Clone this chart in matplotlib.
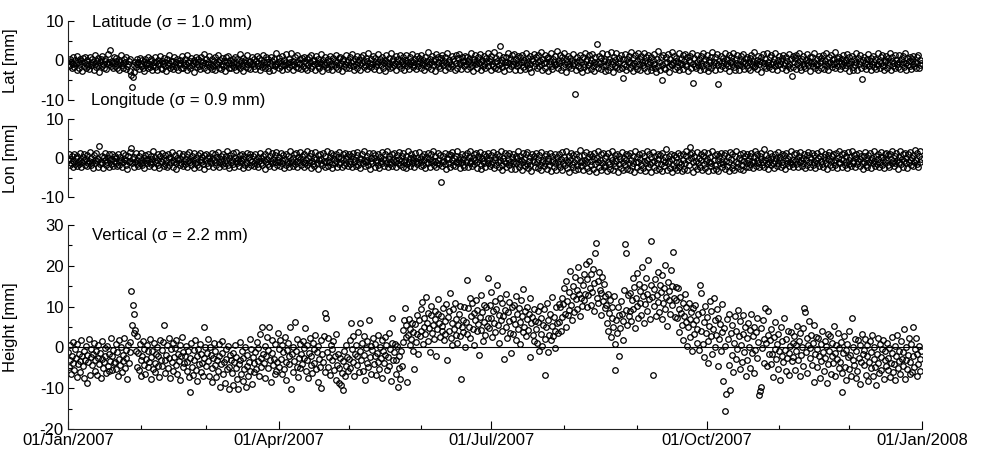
import numpy as np
import pandas as pd
import matplotlib
matplotlib.use("Agg")
import matplotlib.pyplot as plt
import matplotlib.dates as mdates

plt.rcParams['font.family'] = ['Liberation Sans', 'DejaVu Sans']
plt.rcParams['axes.unicode_minus'] = False

# residuals, 3 samples per day, 01/Jan/2007 - 31/Dec/2007
lat_mm = [
    -0.2, -1.4, 0.5, -1.1, -0.3, -2.0, 0.8, -0.9, -1.6, 0.1, -0.7, -2.3, 1.2, -0.4, -1.8, 0.3, -1.0, -0.1, -2.6, 0.6, -1.3, -0.5, 1.0, -1.9, -0.8, 0.2, -1.5, -2.1, 0.9, -0.6,
    -1.2, 0.4, -0.3, -2.4, -0.9, 1.4, -1.7, -0.2, 0.7, -1.1, -2.8, -0.5, 0.3, -1.4, 1.1, -0.8, -1.9, -0.1, 0.5, -2.2, -0.6, 1.6, -1.0, -0.4, 2.7, -1.5, -0.7, 0.0, -2.0, 0.8,
    -1.3, -0.2, 0.6, -1.8, -0.9, 0.2, -2.5, -0.4, 1.3, -1.1, -0.6, -1.9, 0.4, -0.3, -2.1, 0.9, -1.4, -0.8, -0.1, -2.7, 0.5, -3.6, -6.6, -4.2, -1.2, -2.9, -0.5, -1.7, 0.3, -1.0,
    -0.4, -2.2, 0.7, -1.5, -0.8, 0.1, -1.9, -2.6, -0.3, 0.5, -1.2, -0.6, -2.0, 1.0, -0.9, -1.6, -0.2, 0.4, -2.3, -1.1, -0.5, 0.8, -1.7, -0.3, -2.4, 0.2, -1.0, -0.7, 1.2, -1.8,
    -0.1, -2.1, -0.9, 0.6, -1.4, -0.4, -2.7, 0.3, -1.1, -0.6, 1.5, -1.9, -0.2, -1.3, 0.0, -2.2, 0.9, -0.8, -1.6, -0.3, 0.5, -2.5, -1.0, 0.2, -0.7, -1.8, 1.1, -0.5, -2.0, -1.2,
    0.4, -0.9, -2.3, 1.3, -0.4, -1.5, -0.1, -2.0, 0.7, -1.2, -0.6, 0.1, -2.8, -0.3, 1.0, -1.7, -0.8, 0.5, -1.4, -2.2, -0.2, 0.8, -1.1, -0.5, 1.7, -1.9, -0.7, 0.3, -2.4, -1.0,
    -0.3, 1.1, -1.6, -0.8, -2.1, 0.4, -1.3, -0.1, 0.9, -2.5, -0.6, -1.0, 1.4, -1.8, -0.4, 0.2, -2.2, -0.9, 0.6, -1.5, -0.2, -2.6, 0.8, -1.1, -0.5, 1.2, -1.9, -0.7, 0.1, -2.0,
    -1.2, 0.5, -0.3, -1.7, 1.0, -2.3, -0.6, 0.3, -1.4, -0.9, 1.6, -2.0, -0.1, -1.1, 0.7, -2.7, -0.5, 0.2, -1.6, -0.8, 1.3, -1.9, -0.4, 0.0, -2.2, -1.0, 0.9, -0.6, -1.5, 0.4,
    -2.1, -0.2, 1.1, -1.3, -0.7, 0.6, -2.4, -0.9, 0.2, -1.6, 1.5, -0.4, -2.0, -1.1, 0.8, -0.3, -1.8, 0.3, -2.6, -0.6, 1.0, -1.2, -0.1, -2.3, 0.5, -0.8, -1.5, 1.8, -1.0, -0.5,
    -1.9, 0.7, -0.2, -1.4, 1.2, -2.5, -0.8, 0.1, -1.1, -0.4, 1.6, -2.1, -0.7, 0.4, -1.7, -0.3, 2.0, -1.2, -2.4, 0.0, -0.9, 0.9, -1.6, -0.5, 1.3, -2.0, -1.0, 0.3, -0.6, -2.2,
    0.6, -1.3, -0.1, 1.0, -1.8, -0.7, -2.5, 0.4, -1.1, 0.8, -0.4, -2.0, 1.4, -1.5, -0.2, -0.9, 0.2, -2.3, 1.1, -0.6, -1.4, 0.5, -1.9, -0.3, 1.7, -1.0, -2.6, 0.1, -0.8, -1.2,
    0.9, -0.5, -1.7, 0.3, -2.2, -0.1, 1.2, -1.3, -0.8, -2.4, 0.6, -1.0, 0.0, 1.5, -1.6, -0.4, -2.1, 0.7, -1.1, 1.0, -0.6, -2.7, -0.2, 0.4, -1.5, -0.9, 1.3, -1.8, -0.3, 0.2,
    -2.0, 0.8, -1.2, -0.5, 1.6, -1.4, -0.1, -2.3, 0.5, -0.8, 1.1, -1.9, -0.4, 0.2, -1.0, -2.5, 0.9, -0.7, 1.4, -1.6, -0.2, -1.1, 0.6, -2.2, 0.0, 1.9, -1.3, -0.6, -1.7, 0.3,
    -0.9, 1.2, -2.1, -0.3, 0.7, -1.5, -1.0, 1.7, -0.5, -2.4, 0.4, -1.2, -0.2, 1.0, -1.8, -0.7, 0.1, -2.6, 1.3, -0.4, -1.4, 0.6, -0.9, -2.0, 1.8, -0.1, -1.6, 0.3, -1.1, -0.6,
    1.1, -2.3, -0.3, 0.5, -1.3, -0.8, 1.5, -1.9, -0.2, -1.0, 0.8, -2.5, 0.2, -0.6, 1.3, -1.4, -0.4, -2.1, 0.9, -0.9, 0.0, 1.6, -1.7, -0.5, -1.1, 0.4, -2.2, 1.2, -0.7, -1.5,
    0.7, -0.3, -1.9, 1.4, -1.0, 0.1, -2.4, -0.6, 1.0, -1.3, -0.1, 2.1, -1.7, -0.8, 0.5, -2.2, -0.4, 1.2, -1.2, -0.2, 0.3, -2.6, 1.6, -0.9, -0.5, 0.9, -1.5, -2.0, 0.6, -0.7,
    1.5, -1.1, -0.2, -2.3, 0.8, -0.6, 1.9, -1.6, -0.4, 0.2, -2.0, -0.9, 1.1, -1.3, 0.4, -0.1, -2.5, 1.3, -0.7, -1.8, 0.6, 1.7, -1.0, -0.3, -2.2, 0.9, -0.5, 0.0, -1.4, 1.2,
    -0.8, -2.1, 1.0, -0.2, 0.5, -1.7, -0.6, 2.0, -1.2, -2.6, 0.3, -0.4, 1.4, -1.0, -0.1, -1.9, 0.8, -0.7, 1.6, -2.3, -0.3, 0.1, -1.5, 1.2, -0.9, -2.0, 0.7, -0.5, 1.8, -1.3,
    -0.2, 0.4, -2.4, 1.1, -0.8, -1.4, 2.2, -0.5, -1.8, 0.6, -0.1, -2.2, 1.5, -1.1, 3.6, -0.6, 0.2, -1.6, 1.0, -2.7, -0.3, 0.9, -1.2, -0.4, 1.9, -2.1, -0.7, 0.3, -1.5, 1.3,
    -1.0, -0.2, 1.7, -2.3, -0.6, 0.5, -1.4, 1.2, -0.9, -2.5, 0.8, -0.3, 1.4, -1.7, -0.5, 0.1, -2.1, 2.0, -1.1, -0.4, 0.7, -1.9, 1.1, -0.8, -2.8, 0.4, -0.1, 1.6, -1.3, -0.6,
    0.9, -2.0, -0.4, 1.3, -1.5, -0.2, 2.1, -1.0, -2.4, 0.3, -0.7, 1.5, -1.8, -0.3, 0.6, -2.6, 1.0, -0.9, -0.1, 1.8, -1.4, -2.2, 0.5, -0.5, 1.2, -1.2, -0.8, 2.3, -1.9, 0.0,
    -0.6, 1.4, -2.3, -0.2, 0.8, -1.6, 1.9, -0.9, -2.9, 0.4, -0.4, 1.1, -1.3, -1.0, 0.7, -2.0, -0.1, 1.6, -1.1, -0.7, -8.4, -2.5, -0.3, 0.9, -1.5, 0.2, 1.3, -1.8, -0.5, -3.0,
    1.0, -0.8, -1.7, 2.0, -0.2, -2.4, 0.5, -1.2, 1.5, -0.6, -2.1, 0.2, 1.7, -1.4, -0.4, -2.7, 0.9, -1.0, 4.2, -0.3, -1.9, 1.2, -0.7, -2.2, 0.6, 1.8, -1.5, -0.1, -2.6, 0.3,
    -1.1, 1.6, -0.5, -2.3, 0.4, -1.7, 2.1, -0.9, -0.2, -2.8, 1.0, -1.3, 0.1, 1.9, -1.6, -0.6, -2.2, 0.7, -0.1, 1.4, -2.0, -4.4, 0.5, -0.8, 1.7, -1.4, -2.5, 0.3, -0.4, 1.2,
    -1.8, -0.3, 2.2, -1.1, -2.6, 0.6, -0.7, 1.3, -1.5, -0.1, -2.1, 1.8, -0.9, 0.4, -2.4, 1.1, -0.5, -1.2, 2.0, -1.9, -0.2, 0.8, -2.7, -0.6, 1.5, -1.0, -0.3, -2.3, 1.0, -1.6,
    0.2, -0.8, 1.6, -2.0, -2.9, 0.5, -1.3, 2.3, -0.4, -2.5, 1.0, -1.1, -5.0, 1.4, -1.8, -0.6, -2.2, 0.9, -0.3, 1.7, -1.4, -2.8, 0.3, -0.9, 2.1, -1.2, -0.5, 1.2, -2.1, -0.2,
    0.7, -1.7, -0.4, 1.9, -2.4, -0.7, 0.4, -1.0, 1.3, -2.2, -0.2, 1.6, -1.5, -0.9, 0.8, -2.6, 0.1, -0.5, 1.1, -1.9, 2.0, -5.7, -0.8, 0.6, -1.3, -2.0, 1.5, -0.3, -1.1, 0.3,
    -2.3, 1.2, -0.6, -1.4, 1.8, -0.1, -2.1, 0.5, -0.9, 1.4, -1.6, -2.7, 0.2, -0.4, 1.0, -1.8, 2.2, -1.1, -0.3, -2.4, 0.9, -0.7, 1.6, -6.0, -1.2, 0.0, -2.2, 1.1, -0.5, -1.5,
    0.6, -0.2, 1.9, -2.0, -0.8, 0.3, -1.3, 1.3, -2.6, -0.5, 0.8, -1.0, -0.1, 2.0, -1.7, -2.3, 0.4, -0.6, 1.5, -1.2, -2.5, 0.1, -0.9, 1.1, -1.5, -0.3, 1.7, -2.1, -0.7, 0.5,
    -1.1, 1.0, -1.9, -0.4, 0.7, -2.4, 1.4, -0.8, -0.2, -1.6, 2.1, -1.3, -0.6, 0.2, -2.2, 1.2, -1.0, -0.1, -2.8, 0.9, -0.5, 1.6, -1.4, -0.7, 0.4, -2.0, 1.8, -1.2, -0.3, -1.7,
    0.8, -0.9, 1.3, -2.1, -0.4, 0.5, -1.5, 2.0, -0.7, -2.5, 0.1, -1.1, 1.1, -1.0, -0.2, -1.8, 0.6, 1.5, -1.2, -0.6, -2.3, 0.9, -0.1, -1.4, 1.7, -0.8, -2.0, 0.3, -3.9, 1.2,
    -1.6, -0.3, 0.7, -2.2, 1.4, -1.0, -0.5, 1.9, -1.7, -0.1, -2.4, 0.4, -0.9, 1.2, -1.3, -2.0, 0.2, -0.6, 1.6, -1.1, -0.2, -2.6, 0.8, -0.7, 1.0, -1.5, -0.4, 2.0, -1.9, -0.8,
    0.3, -1.2, -2.3, 1.1, -0.5, 0.6, -1.8, -0.1, 1.5, -2.1, -0.9, 0.0, 1.8, -1.4, -0.6, -2.5, 0.9, -0.3, 1.3, -1.0, -1.7, 0.4, -0.8, 2.2, -2.0, -0.4, 0.7, -1.3, -0.2, 1.0,
    -2.2, -0.7, 0.5, -1.5, 1.4, -0.3, -2.0, 0.1, -1.1, 1.7, -0.6, -2.6, 0.8, -0.9, -0.2, 1.2, -1.6, -2.4, 0.4, -1.2, 1.9, -0.5, -2.3, 0.6, -1.0, -0.1, 1.3, -1.8, -4.7, 0.2,
    -1.4, 1.0, -0.6, -2.1, 0.3, -0.8, 1.6, -1.3, -0.2, -2.4, 0.7, -1.0, 1.2, -1.7, -0.4, 0.5, -2.2, -0.9, 1.8, -1.2, -0.1, -2.0, 0.9, -0.6, 1.4, -1.5, -2.5, 0.2, -0.3, 1.1,
    -1.8, -0.5, 0.6, -1.1, 2.0, -2.3, -0.2, 0.8, -1.4, -0.7, 1.3, -2.0, 0.1, -0.9, -1.6, 1.5, -0.4, -2.2, 0.4, -1.0, 1.1, -0.3, -1.7, 1.9, -2.5, -0.6, 0.7, -1.2, -0.1, 1.0,
    -1.5, -2.1, 0.5, -0.8, 1.2, -1.3, -0.3, -1.9, 0.9, -0.6, 1.4, -2.0, -1.1, 0.2, -0.7,
]

lon_mm = [
    -0.5, 0.9, -1.8, -0.2, -1.2, 0.4, -2.3, -0.7, 1.1, -1.5, -0.1, -2.0, 0.6, -0.9, -1.6, 1.3, -0.4, -2.4, -1.1, 0.2, -0.6, 1.0, -1.9, -0.3, -2.1, 0.7, -1.3, -0.8, 1.5, -1.7,
    0.1, -1.0, -2.5, 0.8, -0.4, -1.4, 1.2, -0.7, -2.2, -0.2, 3.0, -1.6, -0.9, 0.5, -1.2, -2.6, 0.3, -0.5, 1.4, -1.8, -1.0, 0.0, -2.3, 0.9, -0.6, -1.5, 1.1, -0.3, -2.0, -0.8,
    0.6, -1.3, -0.1, -2.1, 1.0, -0.7, -1.7, 0.3, -0.4, -2.4, 1.3, -1.1, -0.2, 0.7, -1.9, -0.5, -2.7, 0.4, -1.0, 1.6, -0.8, 2.6, -1.4, -0.3, -2.2, 0.2, -0.9, 1.2, -1.6, -0.6,
    -2.0, 0.5, -1.2, -0.4, 1.4, -1.8, -0.9, 0.0, -2.5, 0.8, -0.6, -1.4, 1.1, -0.2, -2.1, -1.0, 0.6, -1.6, -0.3, 1.7, -2.3, -0.8, 0.2, -1.3, -0.5, 1.0, -1.9, -2.6, 0.4, -0.7,
    -1.1, 1.3, -0.3, -2.0, 0.7, -1.5, -0.6, -2.4, 0.9, -0.1, -1.7, 0.3, -1.0, 1.5, -2.2, -0.4, -0.9, 0.8, -1.4, -2.7, 0.1, -0.5, 1.2, -1.8, -0.2, -1.2, 0.5, -2.1, 1.0, -0.8,
    -1.5, -0.3, 0.9, -2.3, -0.7, 1.6, -1.1, -0.2, -1.9, 0.4, -0.6, -2.5, 1.2, -1.3, 0.0, -0.9, -1.7, 0.7, -2.2, 1.4, -0.4, -1.0, 0.3, -1.6, -2.8, 0.8, -0.5, 1.1, -1.2, -0.1,
    -2.0, 0.6, -0.8, -1.4, 1.3, -0.2, -2.3, -0.6, 0.9, -1.1, -1.8, 0.2, 1.6, -0.9, -2.4, -0.3, 0.5, -1.5, -0.7, 1.0, -2.1, -1.2, 0.4, -0.4, 1.8, -1.7, -0.1, -2.6, 0.7, -1.0,
    -0.5, 1.2, -1.6, -2.2, 0.1, -0.8, 1.5, -1.3, -0.3, -2.0, 0.8, -1.1, -0.6, 1.1, -2.5, -0.2, 0.5, -1.7, -0.9, 1.4, -1.4, -2.3, 0.3, -0.4, 1.0, -1.9, -0.7, 0.6, -2.1, -1.2,
    0.9, -0.4, -1.5, 0.2, -2.4, -0.8, 1.3, -1.2, -0.1, -1.9, 0.6, -0.6, -2.7, 1.0, -1.0, -0.3, 1.7, -1.6, -2.1, 0.4, -0.7, 1.2, -1.3, -0.2, -2.2, 0.7, -0.9, 1.5, -1.8, -0.5,
    -1.1, 0.3, -2.0, 1.4, -0.6, -1.4, 0.8, -2.6, -0.2, 1.1, -1.7, -0.9, 0.5, -1.2, -2.3, 1.9, -0.4, -1.0, -0.1, -2.1, 0.9, -1.5, 1.3, -0.7, -2.4, 0.2, -1.1, 1.6, -0.3, -1.8,
    0.6, -0.9, -2.2, 1.0, -1.3, -0.5, 1.7, -1.9, -0.1, -1.0, 0.4, -2.5, 1.2, -0.7, -1.6, 0.0, -2.0, 1.5, -0.3, -1.2, 0.8, -2.7, -0.6, 1.1, -1.4, -0.2, -1.9, 1.3, -0.8, -2.3,
    0.5, -1.1, 1.8, -0.4, -2.1, -0.9, 0.2, 1.4, -1.6, -2.6, 0.7, -0.3, -1.3, 1.0, -0.7, -2.2, 0.3, -1.5, 1.6, -1.0, -0.1, -2.4, 0.9, -0.6, -1.8, 1.2, -0.2, -1.3, 0.4, -2.0,
    1.1, -0.8, -1.5, 0.6, -2.3, -0.3, 1.3, -1.1, -0.5, -2.0, 0.8, 1.5, -1.7, -0.9, 0.1, -2.5, -0.2, 1.0, -1.4, -0.6, 1.7, -2.1, -1.0, 0.4, -0.4, -1.8, 1.2, -2.7, 0.0, -0.7,
    -1.3, 1.4, -0.1, -2.2, 0.7, -1.0, -0.5, 1.1, -1.9, -2.5, 0.3, -0.8, 1.6, -1.4, -0.3, -2.0, 0.9, -0.6, -1.2, 1.8, -2.3, -0.2, 0.5, -1.6, -0.9, 1.0, -2.1, -0.4, 1.3, -1.1,
    -0.6, -2.4, 0.8, -1.3, 1.5, -0.2, -1.8, -0.7, 0.4, -2.2, 1.2, -1.0, -0.4, -2.6, 0.6, -1.5, 1.9, -0.9, -0.1, -2.0, 1.0, -1.2, -0.5, 0.3, -2.3, 1.4, -0.8, -1.6, 0.1, -1.1,
    1.6, -0.3, -2.1, -1.0, 0.5, -1.7, 1.1, -0.6, -2.5, 0.2, -0.9, 1.4, -1.4, -0.2, -2.2, 0.9, -1.1, -0.5, 1.7, -1.9, -0.7, 0.4, -2.4, -1.2, 1.2, -0.4, -1.6, 0.7, -6.2, -1.0,
    -2.0, 0.6, -0.8, 1.3, -1.5, -2.7, 0.1, -0.3, 1.0, -1.2, -2.3, 0.8, -0.6, 1.5, -1.8, -0.1, -2.1, 0.5, -1.0, 1.9, -1.4, -0.4, -2.6, 0.3, -0.9, 1.1, -1.7, -0.2, -2.2, 0.7,
    -1.1, 1.4, -0.5, -2.4, 0.2, -1.3, 1.8, -0.8, -2.0, -0.1, 0.9, -1.6, -0.6, 1.2, -2.5, -1.0, 0.4, -0.3, 1.6, -1.9, -2.8, 0.0, -0.7, 1.0, -1.4, -2.2, 0.6, -0.4, 1.3, -1.2,
    -0.2, -2.1, 0.8, -1.5, -0.9, 1.5, -2.6, -0.4, 0.3, -1.7, 1.1, -1.1, -2.3, 0.5, -0.6, 1.9, -1.8, -3.0, 0.1, -0.8, 1.2, -1.3, -2.4, 0.7, -0.3, -1.9, 1.4, -1.0, -2.7, 0.2,
    -1.4, 1.0, -0.7, -2.9, 0.4, -1.2, -0.1, 1.7, -2.2, -1.6, 0.6, -0.5, -3.1, 1.2, -1.0, -0.3, -2.0, 0.9, -1.5, 1.5, -2.6, -0.8, 0.2, -1.8, -3.3, 1.1, -0.6, -1.1, 0.5, -2.3,
    1.3, -0.9, -2.5, -0.2, 0.8, -1.7, -3.2, 1.6, -1.1, -0.4, -2.1, 0.4, -1.4, 1.0, -2.8, -0.7, 0.0, -1.9, 1.4, -3.4, -1.0, 0.6, -0.5, -2.4, 1.1, -1.3, -3.0, 0.3, -0.8, -1.6,
    0.9, -2.2, -0.3, 1.5, -3.1, -1.2, 0.2, -1.8, -0.6, 1.8, -2.6, -1.0, 0.5, -3.5, -0.4, 1.2, -1.5, -2.3, 0.7, -0.9, -3.2, 1.0, -1.7, -0.2, -2.7, 0.4, -1.1, 2.0, -2.0, -0.7,
    -3.0, 0.8, -1.4, -0.5, 1.6, -2.5, -1.0, 0.3, -3.3, 1.1, -0.8, -1.9, 0.6, -2.9, -0.3, 1.4, -1.6, -3.6, 0.1, -1.1, 1.9, -2.2, -0.6, -3.1, 0.9, -1.3, 1.2, -2.4, -0.1, -1.8,
    0.5, -3.4, -0.9, 1.3, -1.5, -2.7, 0.2, -0.4, 1.7, -3.0, -1.2, 0.7, -2.1, -0.7, 1.0, -3.6, -1.6, 0.4, -0.2, -2.5, 1.5, -1.0, -3.2, 0.1, -1.8, 1.1, -0.5, -2.8, 0.8, -1.3,
    -3.1, 1.2, -0.6, -2.0, 0.6, -1.4, -3.5, 1.7, -0.9, -2.4, 0.3, -1.1, 1.0, -3.0, -0.3, -1.7, 1.4, -2.6, -0.8, 0.5, -3.3, -1.2, 1.8, -0.4, -2.2, 0.9, -1.5, -3.7, 0.2, -1.0,
    1.5, -2.3, -0.7, 0.4, -3.2, -1.3, 1.1, -0.2, -2.8, 0.7, -1.6, -3.4, 1.3, -0.5, -2.1, 0.2, -1.0, 2.2, -3.0, -1.4, 0.6, -0.8, -2.5, 1.0, -3.6, -0.3, -1.8, 0.8, -2.6, -1.1,
    0.3, -3.1, 1.4, -0.9, -2.2, 0.7, -1.5, -3.4, 1.1, -0.4, -2.7, -1.2, 0.5, 1.8, -3.0, -0.6, -1.9, 0.9, 2.9, -0.1, 1.2, -3.5, -1.0, 0.4, -2.0, -0.7, 1.6, -2.9, -1.3, 0.1,
    -2.3, 1.0, -0.5, -3.2, 0.6, -1.6, 1.5, -2.6, -0.8, -0.2, -3.4, 1.2, -1.1, 0.3, -2.1, -1.4, 1.7, -3.0, -0.4, 0.8, -1.8, -2.7, 1.1, -0.6, -3.3, 0.5, -1.2, 1.4, -2.4, -0.9,
    -1.5, 0.7, -2.9, 1.2, -0.7, -2.0, 0.2, -3.3, -1.1, 1.5, -0.3, -2.5, 0.9, -1.7, -3.1, 0.4, -0.9, 1.9, -2.2, -1.4, 0.0, -2.8, 1.0, -0.5, -1.9, 1.3, -3.0, -0.8, 0.6, -2.4,
    -1.2, 1.1, -0.4, -2.3, 0.6, -1.6, 1.4, -0.8, -2.6, 0.2, -1.1, 1.7, -2.0, -0.5, 0.9, -1.4, -2.4, 0.4, -0.2, 1.2, -1.8, -0.9, 2.4, -2.2, -0.6, 0.8, -1.5, -2.8, 0.1, -1.0,
    1.3, -0.3, -1.9, 0.5, -1.2, -2.5, 1.0, -0.7, -0.1, -2.1, 1.6, -1.4, -0.6, 0.3, -2.3, 1.1, -0.9, -1.7, 0.7, -2.7, -0.4, 1.4, -1.3, -0.2, -2.0, 0.6, -1.0, 1.8, -1.6, -0.5,
    -2.2, 0.9, -0.8, 1.3, -1.5, -0.3, -2.4, 0.4, -1.1, 1.6, -0.6, -2.0, 0.1, -1.3, 1.0, -2.6, -0.4, 0.7, -1.7, 1.5, -0.9, -2.3, 0.3, -0.2, 1.2, -1.8, -1.0, 0.8, -2.5, -0.6,
    1.4, -1.2, -0.1, -2.1, 0.6, -0.8, 1.9, -1.6, -2.4, 0.2, -0.5, 1.1, -1.4, -2.7, 0.8, -0.3, 1.5, -1.9, -0.7, 0.4, -2.2, 1.0, -1.1, -0.4, -1.7, 1.3, -2.5, 0.0, -0.9, 1.7,
    -1.3, -0.2, -2.3, 0.9, -0.6, 1.2, -1.8, -1.0, 0.5, -2.6, 1.5, -0.4, -1.5, 0.2, -2.0, 1.8, -0.8, -1.2, 0.7, -2.4, -0.1, 1.0, -1.6, -0.7, 1.4, -2.1, -0.3, 0.6, -1.4, -2.8,
    0.4, -0.9, 1.6, -1.7, -0.2, -2.2, 0.8, -1.1, 1.3, -0.5, -2.5, 0.1, -1.3, 1.9, -0.7, -2.0, 0.6, -1.5, -0.3, 1.1, -2.3, -0.9, 0.3, 1.5, -1.8, -0.4, -2.6, 0.9, -1.0, 1.2,
    -0.6, -1.9, 0.7, -2.4, 1.0, -0.2, -1.4, 1.7, -0.8, -2.1, 0.4, -1.2, 1.3, -0.5, -2.7, 0.2, -1.0, 1.8, -1.6, -0.3, 0.9, -2.2, -0.7, 1.4, -1.3, 0.0, -2.5, 1.1, -0.9, -0.4,
    1.6, -1.7, -0.1, -2.0, 0.8, -1.1, 2.0, -0.6, -1.5, 1.3, -2.3, 0.5, 1.9, -1.0, -0.3,
]

height_mm = [
    -1.2, -4.8, 0.6, -3.1, -6.5, -2.0, 1.4, -3.9, -5.6, -0.5, -2.7, -7.2, 0.9, -4.1, -1.6, -3.3, -6.0, 1.8, -2.2, -4.5, -0.8, -7.6, -3.0, 0.3, -8.7, -1.9, -3.6, 2.1, -6.8, -2.4,
    -0.4, -4.3, -1.7, 1.2, -5.9, -3.2, -0.9, -6.7, -2.6, 0.7, -4.0, -1.3, -7.4, -2.9, 1.6, -5.1, -3.7, -0.2, -2.1, -6.3, 0.4, -4.6, -1.5, -5.8, -3.4, 2.3, -2.0, -5.5, -0.7, -3.8,
    -3.5, 0.8, -5.4, -1.1, -7.0, 1.9, -2.8, -4.4, 0.2, -6.1, -1.8, -3.3, 2.4, -5.0, -0.6, -2.5, -7.8, 0.5, -3.9, -1.2, 1.3, 13.8, 5.5, 10.3, 8.3, 3.5, 4.3, -0.9, -4.7, 2.7,
    -1.4, -5.6, 0.9, -3.0, -7.1, -2.2, 1.5, -4.2, -0.3, -6.4, -2.9, 0.6, -4.9, -1.0, -3.5, 2.0, -7.7, -2.4, -0.8, -5.3, 1.1, -3.8, -6.0, -1.6, 0.2, -4.5, -2.1, -7.3, 1.7, -3.2,
    -0.7, -4.6, 1.3, 5.5, -3.1, -6.2, -1.9, 0.5, -5.0, -2.6, 2.2, -7.4, -0.4, -3.7, 1.0, -5.7, -2.3, -0.1, -4.3, 1.8, -6.6, -1.5, -3.4, 0.7, -8.1, -2.0, 2.5, -4.8, -1.1, -3.9,
    -2.2, 0.4, -5.8, -3.6, -1.0, -7.3, -10.9, -2.7, 1.2, -4.9, -6.8, -0.6, -3.2, 1.7, -5.5, -2.0, -8.2, -0.3, -4.1, 0.9, -6.1, -1.6, -3.9, -7.0, 5.1, -2.5, 0.1, -4.6, -1.3, 2.0,
    -3.3, -6.9, 0.2, -1.8, -5.1, -8.4, -2.6, 1.0, -4.4, -0.9, -7.2, -3.0, -5.8, 0.8, -2.1, -9.6, -4.0, -1.3, 1.5, -6.4, -3.7, -8.8, -0.5, -2.8, -5.3, 0.4, -4.7, -10.2, -1.9, -3.1,
    -6.2, -1.4, -9.1, -3.5, 0.6, -5.0, -2.3, -7.7, -10.3, -4.1, 1.3, -3.0, -6.6, -0.8, -8.3, -2.7, -5.4, 0.1, -9.8, -4.6, -1.9, -7.0, -3.6, 2.0, -5.8, -0.4, -8.9, -2.4, -6.1, -3.9,
    -1.1, -5.3, 1.4, -3.4, -0.2, -6.9, 3.2, -2.5, -4.8, 4.9, -1.6, -3.9, 0.3, -7.5, -2.0, 2.6, -5.1, -0.7, 5.1, -3.2, -8.6, -1.3, 1.9, -4.3, -2.8, -6.4, 0.8, -5.7, -3.6, 3.6,
    -0.3, -4.7, 1.8, -2.9, -6.5, 0.5, -1.2, -5.4, 2.6, -3.6, -8.0, -0.6, 1.1, -4.0, -2.2, 5.0, -10.2, -1.5, -6.1, 0.2, -3.3, 6.3, -1.0, -4.9, 2.1, -7.2, -2.5, 0.9, -5.0, -1.7,
    -4.1, 1.5, -2.6, -0.1, 4.8, -5.7, -3.0, 0.7, -7.5, -1.4, 2.4, -4.4, -2.1, -6.3, 1.0, -0.5, -3.8, 3.0, -5.2, -1.1, -8.4, 0.3, -2.9, -4.7, 1.9, -10.0, -1.6, -3.5, 2.8, -6.0,
    8.4, 7.3, -1.2, -4.9, 2.2, -2.4, -6.7, 0.5, -3.1, -0.3, 1.6, -5.5, -2.0, 3.4, -7.9, -4.3, -1.7, -8.8, -5.1, -2.6, -9.3, -6.2, -10.4, -3.4, -0.9, -7.1, -4.5, 0.6, -2.3, -5.7,
    -2.8, 1.9, -5.1, 6.1, -0.4, -3.6, 2.7, -7.0, -1.5, 0.6, -4.3, -2.1, 3.8, -6.1, 6.0, -0.9, -3.2, 1.2, -5.7, -1.8, 2.9, -8.1, -0.2, -3.9, 1.5, -4.8, 6.7, -2.4, 0.4, -6.4,
    -0.6, 2.3, -4.0, -2.2, 0.9, -6.8, -1.3, 3.1, -3.5, -5.2, 0.1, -2.7, 1.8, -7.6, -0.8, -3.8, 2.6, -1.9, 0.5, -5.5, -2.4, 3.5, -4.6, -0.3, -8.3, 1.2, 7.2, -3.1, -1.1, 0.8,
    -3.0, -6.4, 0.4, -9.6, -5.1, -2.2, -7.8, -1.0, -4.5, 4.2, 1.3, 6.8, 9.7, 2.5, 5.4, -8.4, 3.1, 7.0, 0.6, 4.6, 2.0, 6.1, -0.8, 3.7, -5.2, 5.8, 1.4, 8.0, 3.3, -1.5,
    6.6, 2.8, 9.4, 4.1, 11.2, 0.9, 7.3, 5.0, 3.2, 12.3, 6.0, 1.6, 8.5, 4.7, -1.2, 7.9, 10.1, 3.6, 5.5, 2.1, 9.0, 6.9, -2.0, 4.4, 8.1, 11.8, 5.9, 2.6, 7.6, 3.9,
    5.2, 9.7, 1.8, 6.5, 3.4, 10.6, -3.0, 7.4, 4.0, 8.8, 13.3, 2.3, 6.1, 0.5, 9.3, 4.6, 11.0, 3.0, 7.0, 1.2, 5.6, 8.2, 2.9, 10.2, -7.8, 4.9, 6.8, 3.7, 9.9, 0.2,
    6.3, 16.5, 3.3, 9.6, 5.1, 12.0, 2.2, 7.8, 10.9, 4.5, 8.4, 0.7, 6.7, 11.5, 3.9, 9.1, 5.8, -1.8, 7.5, 12.8, 4.2, 8.7, 1.5, 10.4, 6.2, 3.0, 9.8, 5.3, 17.1, 7.1,
    4.8, 10.3, 7.2, 13.6, 2.6, 8.9, 6.0, 11.4, 3.7, 9.5, 15.2, 5.4, 1.1, 8.0, 12.2, 6.6, 4.0, 10.8, 7.7, -2.8, 9.2, 5.0, 13.0, 2.4, 8.6, 11.1, 6.4, 3.5, -1.4, 9.9,
    7.0, 3.2, 10.5, 5.7, 12.6, 1.9, 8.3, 4.4, 9.7, 6.2, 0.8, 11.7, 7.6, 3.8, 14.3, 5.1, 9.0, 2.7, 6.9, 10.0, 4.3, 8.1, -2.4, 12.1, 5.9, 7.4, 3.1, 9.4, 1.6, 6.5,
    4.6, 1.2, 8.8, 6.3, -0.8, 10.2, 3.4, 7.1, 0.3, 5.5, 9.4, 2.0, -6.8, 4.9, 11.0, -1.1, 6.7, 3.0, 8.2, 1.7, 5.2, 12.4, 2.8, 7.5, 4.0, -0.2, 9.9, 6.0, 3.5, 10.7,
    6.2, 9.8, 3.9, 12.0, 7.4, 10.6, 14.5, 8.3, 5.1, 16.2, 11.3, 7.9, 13.7, 9.2, 18.8, 10.4, 6.8, 15.0, 12.5, 8.7, 17.3, 11.9, 14.1, 9.5, 19.6, 13.0, 7.6, 16.4, 12.2, 10.1,
    15.3, 11.6, 18.0, 13.2, 20.4, 9.9, 16.7, 12.8, 21.2, 14.6, 10.5, 17.9, 13.5, 19.3, 8.8, 15.8, 23.1, 25.6, 12.0, 16.2, 10.9, 18.6, 14.0, 7.9, 13.3, 17.2, 11.4, 15.5, 9.6, 12.7,
    10.3, 6.1, 13.2, 4.0, 8.5, 11.7, 2.6, 7.2, 9.8, 5.0, 12.6, 0.9, -5.5, 6.8, 3.5, 10.0, 7.9, -2.2, 4.7, 11.3, 8.1, 1.8, 6.4, 14.0, 25.3, 23.1, 9.2, 5.6, 12.9, 7.7,
    8.9, 13.4, 6.5, 11.6, 16.9, 9.3, 14.7, 4.8, 12.1, 18.2, 10.2, 7.3, 15.6, 11.0, 13.8, 8.0, 19.7, 12.7, 5.9, 14.9, 10.6, 17.1, 9.0, 13.1, 21.4, 11.8, 7.0, 26.0, 15.2, 12.3,
    -6.8, 14.2, 10.1, 16.8, 7.8, 12.9, 18.5, 11.2, 8.6, 15.4, 13.6, 6.9, 17.7, 10.8, 14.5, 9.4, 20.3, 12.4, 5.3, 16.1, 11.5, 13.9, 8.2, 18.9, 15.0, 10.3, 23.4, 12.0, 7.5, 14.8,
    11.7, 7.2, 14.6, 9.5, 3.8, 12.3, 8.4, 5.6, 10.9, 1.7, 7.8, 13.1, 6.3, 9.9, 0.4, 4.9, 11.0, 7.0, 2.6, 8.7, -1.0, 5.8, 9.6, 3.3, 10.5, 6.6, 1.2, 4.4, 8.1, -0.6,
    15.3, 13.3, 4.1, 8.6, 0.9, 6.2, -2.4, 10.2, 3.5, 7.4, 1.6, -3.9, 5.3, 11.4, 2.7, 8.9, -1.5, 4.6, 12.0, 6.8, 0.2, 3.1, 9.5, -4.6, 7.1, 2.0, 5.8, -0.8, 10.7, 3.8,
    -8.2, 4.7, 0.3, -15.6, -11.3, 6.9, 2.1, -4.4, 8.3, -10.4, 3.6, -1.8, 5.5, -6.1, 1.0, 7.8, -2.9, 4.0, -0.5, 9.1, 2.8, -5.3, 6.4, 0.6, -3.5, 3.2, 8.0, -1.1, 5.0, -7.0,
    2.4, -3.1, 6.0, 0.2, -5.0, 4.3, 8.1, -1.4, 2.9, -6.3, 5.1, -0.7, 3.7, -2.5, 7.3, 1.4, -11.6, -10.6, -9.6, 4.8, -0.2, 6.6, -3.8, 2.1, 9.7, 1.0, -4.6, 8.9, 3.0, -1.6,
    1.8, -4.1, 4.6, -1.5, -7.3, 2.5, -0.3, 6.2, -2.9, 0.9, -5.4, 3.3, -1.0, -8.0, 5.0, -2.2, 1.5, -3.7, 7.1, -0.6, -5.9, 2.0, -2.6, 4.1, -1.3, -6.8, 0.4, 3.8, -3.4, 1.1,
    -2.4, 2.9, -5.6, 0.7, -0.9, 5.3, -3.2, 1.6, -7.0, 3.5, -1.8, 0.0, 4.7, -4.6, 9.6, 8.6, -1.2, 2.3, -6.2, 0.5, 6.4, -2.7, -0.1, 3.1, -4.3, 1.2, -8.5, 5.6, -1.6, 2.6,
    -0.4, -4.8, 2.3, -2.1, -7.6, 0.9, -3.3, 4.0, -1.1, -5.7, 1.6, -2.6, 0.3, -8.8, 3.2, -4.0, -0.9, 2.7, -6.5, -2.0, 1.1, -3.9, 5.2, -1.4, -7.1, 0.5, -2.8, 3.6, -5.0, -0.2,
    -3.5, 1.4, -6.2, -11.0, -1.3, 2.8, -4.7, -0.6, -8.1, 0.9, -2.4, -5.3, 3.9, -1.8, -6.9, 7.2, -3.0, 0.2, -4.2, 2.1, -7.4, -1.0, -5.8, 1.7, -2.7, -9.0, 0.6, -3.6, 3.4, -1.5,
    -4.4, -0.7, 2.0, -6.7, -2.2, 0.5, -8.3, -3.5, 1.6, -5.1, -1.2, 3.1, -7.0, -2.8, 0.1, -4.9, -9.1, -1.6, 2.4, -3.9, -6.2, 0.8, -2.3, -5.6, -0.4, 1.9, -7.8, -3.2, -1.0, -4.6,
    1.2, -5.5, -2.6, -0.1, -7.2, -3.8, 2.5, -1.4, -6.0, -4.1, 0.4, -8.0, -2.0, 3.0, -5.0, -0.8, -3.4, -6.6, 1.5, -2.9, -4.5, -1.1, 4.6, -7.7, -3.1, 0.0, -5.3, -1.9, 2.2, -6.4,
    -3.6, 0.9, -6.1, 5.0, -2.2, -4.8, -0.5, 2.3, -7.0, -1.7, -4.0, 0.4, -5.9, -2.9, -0.9,
]

titles = ["Latitude (\u03c3 = 1.0 mm)", "Longitude (\u03c3 = 0.9 mm)", "Vertical (\u03c3 = 2.2 mm)"]
ylabels = ["Lat [mm]", "Lon [mm]", "Height [mm]"]

W, H = 984, 455
start = pd.Timestamp("2007-01-01")
end = pd.Timestamp("2008-01-01")


def sample_times(n):
    # equally spaced epochs over the year
    return pd.date_range(start, end, periods=n + 1)[:-1]


fig = plt.figure(figsize=(W / 100, H / 100), dpi=100)


def px_axes(left, top, right, bottom):
    return fig.add_axes([left / W, 1 - bottom / H, (right - left) / W, (bottom - top) / H])


ax_lat = px_axes(68, 21, 922, 100)
ax_lon = px_axes(68, 119, 922, 197)
ax_h = px_axes(68, 225, 922, 429)

series = [lat_mm, lon_mm, height_mm]
axes = [ax_lat, ax_lon, ax_h]
ylims = [(-10, 10), (-10, 10), (-20, 30)]
title_px = [(92, 22), (91, 101), (92, 235)]

for ax, vals, ylab, yl, tp, ttl in zip(axes, series, ylabels, ylims, title_px, titles):
    t = sample_times(len(vals))
    if ax is ax_h:
        ax.axhline(0, color='k', lw=0.8, zorder=1)
    ax.plot(t, vals, 'o', ms=4.0, mfc='none', mec='k', mew=0.9, zorder=2)
    ax.set_xlim(start, end)
    ax.set_ylim(*yl)
    ax.set_yticks(np.arange(yl[0], yl[1] + 1, 10))
    ax.set_yticks(np.arange(yl[0], yl[1] + 1, 5), minor=True)
    for s in ['top', 'right']:
        ax.spines[s].set_visible(False)
    ax.spines['left'].set_linewidth(0.8)
    ax.spines['left'].set_color('#222222')
    ax.tick_params(axis='y', which='both', direction='in', labelsize=12, width=0.8, pad=3)
    ax.tick_params(axis='y', which='major', length=4.5)
    ax.tick_params(axis='y', which='minor', length=3)
    ax.set_ylabel(ylab, fontsize=12)
    ax.yaxis.set_label_coords(-50 / 854, 0.5)
    fig.text(tp[0] / W, 1 - tp[1] / H, ttl, fontsize=12, ha='left', va='center')
    if ax is ax_h:
        ax.spines['bottom'].set_linewidth(0.8)
        ax.spines['bottom'].set_color('#222222')
        ax.xaxis.set_major_locator(mdates.MonthLocator(bymonth=[1, 4, 7, 10]))
        ax.xaxis.set_minor_locator(mdates.MonthLocator())
        ax.xaxis.set_major_formatter(mdates.DateFormatter('%d/%b/%Y'))
        ax.tick_params(axis='x', which='both', direction='in', labelsize=12, width=0.8, pad=3)
        ax.tick_params(axis='x', which='major', length=5.5)
        ax.tick_params(axis='x', which='minor', length=3)
    else:
        ax.spines['bottom'].set_visible(False)
        ax.set_xticks([])

fig.savefig("out.png", dpi=100)
